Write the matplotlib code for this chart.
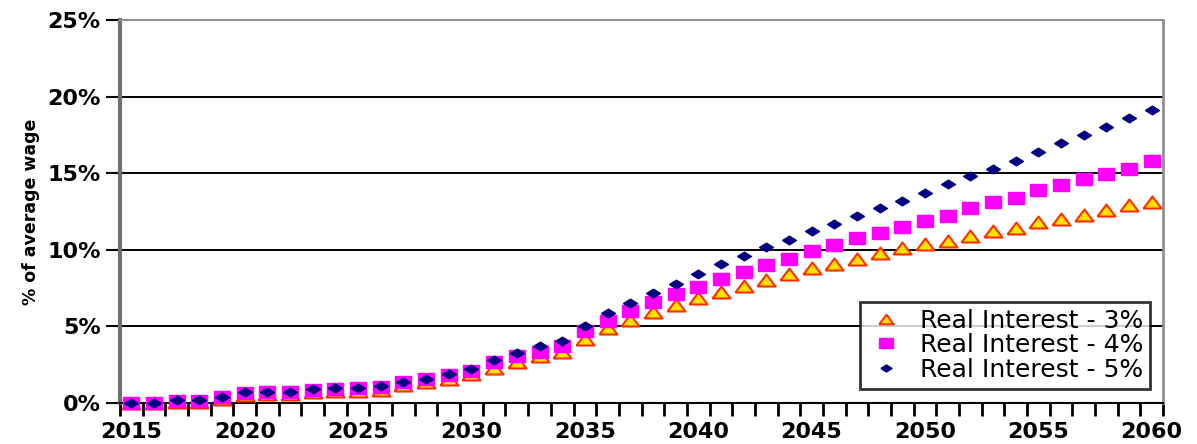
import matplotlib
matplotlib.use("Agg")
import matplotlib.pyplot as plt
from matplotlib.ticker import FuncFormatter

# Dati (percentuale del salario medio)
years = list(range(2015, 2061))
real_3 = [0.0, 0.0, 0.05, 0.05, 0.25, 0.55, 0.6, 0.6, 0.7, 0.8,
          0.8, 0.85, 1.15, 1.4, 1.55, 1.9, 2.3, 2.7, 3.05, 3.35,
          4.2, 4.9, 5.4, 5.95, 6.4, 6.85, 7.25, 7.65, 8.05, 8.4,
          8.8, 9.1, 9.4, 9.8, 10.1, 10.4, 10.6, 10.9, 11.2, 11.4,
          11.8, 12.0, 12.3, 12.6, 12.9, 13.1]
real_4 = [0.0, 0.0, 0.15, 0.15, 0.4, 0.65, 0.7, 0.7, 0.85, 0.9,
          0.95, 1.05, 1.35, 1.55, 1.8, 2.1, 2.65, 3.1, 3.3, 3.7,
          4.7, 5.35, 6.0, 6.6, 7.1, 7.6, 8.1, 8.55, 9.0, 9.4,
          9.9, 10.3, 10.8, 11.1, 11.5, 11.9, 12.2, 12.7, 13.1, 13.4,
          13.9, 14.2, 14.6, 14.95, 15.3, 15.8]
real_5 = [0.0, 0.0, 0.2, 0.2, 0.4, 0.7, 0.75, 0.75, 0.9, 0.95,
          1.0, 1.1, 1.4, 1.6, 1.9, 2.25, 2.8, 3.25, 3.7, 4.05,
          5.0, 5.9, 6.55, 7.2, 7.8, 8.4, 9.05, 9.6, 10.2, 10.65,
          11.2, 11.7, 12.2, 12.7, 13.2, 13.7, 14.3, 14.8, 15.3, 15.8,
          16.4, 16.95, 17.5, 18.0, 18.6, 19.1]
labels = ["Real Interest - 3%", "Real Interest - 4%", "Real Interest - 5%"]
y_ticks = [0, 5, 10, 15, 20, 25]
x_labels = [2015, 2020, 2025, 2030, 2035, 2040, 2045, 2050, 2055, 2060]

plt.rcParams['font.family'] = ['DejaVu Sans']

# Marker "allargati" come nell'immagine originale (stirata in orizzontale)
tri_wide = [(-1.5, -1.0), (0.0, 1.0), (1.5, -1.0), (-1.5, -1.0)]
sq_wide = [(-1.3, -1.0), (1.3, -1.0), (1.3, 1.0), (-1.3, 1.0), (-1.3, -1.0)]
dia_wide = [(-1.6, 0.0), (0.0, 1.0), (1.6, 0.0), (0.0, -1.0), (-1.6, 0.0)]

fig = plt.figure(figsize=(11.97, 4.44), dpi=100)
ax = fig.add_axes([0.1003, 0.0923, 0.8713, 0.8626])

# Serie (ordine di disegno come in Excel: 3%, 4%, 5%)
ax.plot(years, real_3, linestyle='none', marker=tri_wide, markersize=13,
        markerfacecolor='#FFE000', markeredgecolor='#FF3000', markeredgewidth=1.5,
        label=labels[0], clip_on=False, zorder=3)
ax.plot(years, real_4, linestyle='none', marker=sq_wide, markersize=12,
        color='#FF00FF', label=labels[1], clip_on=False, zorder=4)
ax.plot(years, real_5, linestyle='none', marker=dia_wide, markersize=10,
        color='#000080', label=labels[2], clip_on=False, zorder=5)

# Assi
ax.set_xlim(2014.5, 2060.5)
ax.set_ylim(0, 25)
ax.set_yticks(y_ticks)
ax.yaxis.set_major_formatter(FuncFormatter(lambda v, p: f"{int(v)}%"))
ax.set_xticks(x_labels)
ax.set_xticks([y - 0.5 for y in years] + [2060.5], minor=True)
ax.tick_params(axis='x', which='major', length=0, pad=14)
ax.tick_params(axis='x', which='minor', length=9, width=2, direction='out', color='black')
ax.tick_params(axis='y', which='major', length=10, width=1.5, direction='out', pad=4)
for lab in ax.get_xticklabels() + ax.get_yticklabels():
    lab.set_fontsize(16)
    lab.set_fontweight('bold')

# Griglia orizzontale
for v in y_ticks[1:-1]:
    ax.axhline(v, color='black', linewidth=1.4, zorder=1)

ax.spines['left'].set_color('#707070')
ax.spines['left'].set_linewidth(3)
ax.spines['right'].set_color('#909090')
ax.spines['right'].set_linewidth(2)
ax.spines['top'].set_color('#909090')
ax.spines['top'].set_linewidth(1.5)
ax.spines['bottom'].set_color('black')
ax.spines['bottom'].set_linewidth(1.5)

fig.text(0.026, 0.523, "% of average wage", rotation=90, ha='center', va='center',
         fontsize=12.5, fontweight='bold')

leg = ax.legend(loc='lower right', bbox_to_anchor=(0.995, 0.018), fontsize=18,
                frameon=True, fancybox=False, borderpad=0.28, labelspacing=0.02,
                handlelength=1.5, handletextpad=0.6, borderaxespad=0.3, markerscale=0.8)
leg.get_frame().set_edgecolor('black')
leg.get_frame().set_linewidth(2)
leg.set_zorder(10)

fig.savefig("out.png", dpi=100)
